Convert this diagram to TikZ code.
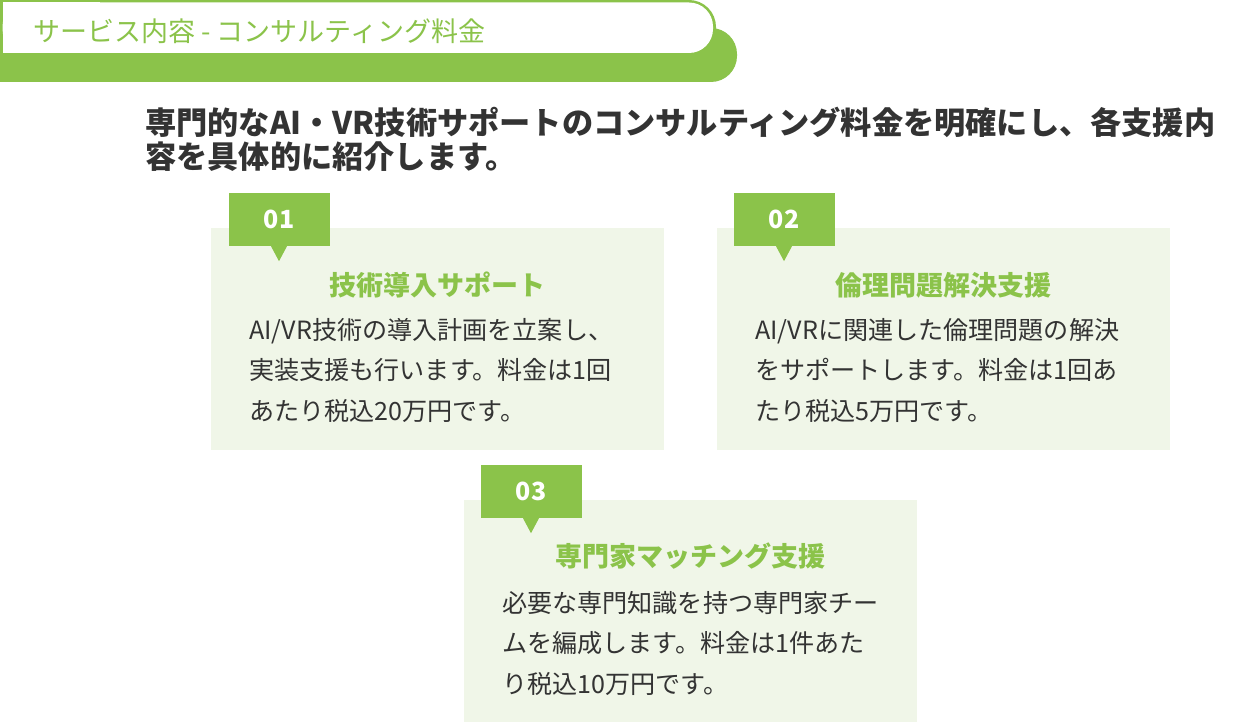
\documentclass[tikz,border=0pt]{standalone}
\usepackage{fontspec}
\setmainfont{Noto Sans CJK JP}
\definecolor{leaf}{RGB}{139,195,74}
\definecolor{cardbg}{RGB}{240,246,232}
\definecolor{ink}{RGB}{51,51,51}
\tikzset{
  card/.style={fill=cardbg, minimum width=453pt, minimum height=222pt, inner sep=0pt},
  tag/.style={fill=leaf, text=white, font=\fontsize{25}{28}\selectfont\bfseries, minimum width=101pt, minimum height=53pt, inner sep=0pt},
  cardtitle/.style={text=leaf, font=\fontsize{27}{30}\selectfont\bfseries, inner sep=0pt},
  cardbody/.style={text=ink, font=\fontsize{25.1}{40.5}\selectfont, align=left, anchor=north west, inner sep=0pt},
}
\begin{document}
\begin{tikzpicture}[x=1pt, y=-1pt]
\clip (0,0) rectangle (1237,722);
% header band
\fill[leaf, rounded corners=26pt] (-40,28) rectangle (737,82);
\fill[leaf, rounded corners=27pt] (-40,0) rectangle (716,56);
\fill[white, rounded corners=24pt] (2.5,2.5) rectangle (713,53);
\fill[white] (2.5,2.5) rectangle (100,53);
\node[anchor=west, text=leaf, font=\fontsize{27}{30}\selectfont, inner sep=0pt] (header) at (33,31) {サービス内容 - コンサルティング料金};
\node[anchor=north west, text=ink, font=\fontsize{31.2}{34}\selectfont\bfseries, align=left, inner sep=0pt] (lead) at (145,107)
  {専門的なAI・VR技術サポートのコンサルティング料金を明確にし、各支援内\\容を具体的に紹介します。};
% cards
\node[card] (card1) at (437.5,339) {};
\node[card] (card2) at (943.5,339) {};
\node[card] (card3) at (690.5,611) {};
\node[tag] (tag1) at (279,219.5) {01};
\node[tag] (tag2) at (784,219.5) {02};
\node[tag] (tag3) at (531,491.5) {03};
\fill[leaf] ([xshift=-8pt]tag1.south) -- ([xshift=8pt]tag1.south) -- ([yshift=-15pt]tag1.south) -- cycle;
\fill[leaf] ([xshift=-8pt]tag2.south) -- ([xshift=8pt]tag2.south) -- ([yshift=-15pt]tag2.south) -- cycle;
\fill[leaf] ([xshift=-8pt]tag3.south) -- ([xshift=8pt]tag3.south) -- ([yshift=-15pt]tag3.south) -- cycle;
\node[cardtitle] (title1) at (437.5,285) {技術導入サポート};
\node[cardtitle] (title2) at (943.5,285) {倫理問題解決支援};
\node[cardtitle] (title3) at (690.5,556) {専門家マッチング支援};
\node[cardbody] (body1) at (249,318) {AI/VR技術の導入計画を立案し、\\実装支援も行います。料金は1回\\あたり税込20万円です。};
\node[cardbody] (body2) at (755,318) {AI/VRに関連した倫理問題の解決\\をサポートします。料金は1回あ\\たり税込5万円です。};
\node[cardbody] (body3) at (502,591) {必要な専門知識を持つ専門家チー\\ムを編成します。料金は1件あた\\り税込10万円です。};
\end{tikzpicture}
\end{document}
